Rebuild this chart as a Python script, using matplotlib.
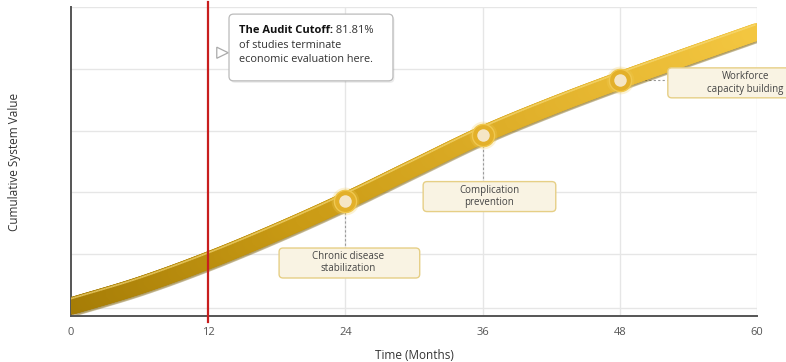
import numpy as np
import matplotlib
matplotlib.use("Agg")
import matplotlib.pyplot as plt
from matplotlib.collections import LineCollection
from matplotlib.colors import LinearSegmentedColormap
from matplotlib.patches import FancyBboxPatch, Polygon
import matplotlib.transforms as mtransforms

plt.rcParams['font.family'] = ['Open Sans', 'DejaVu Sans']

# ---- data ----
months = [0, 6, 12, 18, 24, 30, 36, 42, 48, 54, 60]
value = [3.2, 9.9, 18.0, 27.2, 37.2, 48.0, 58.7, 67.9, 76.3, 84.2, 92.0]
milestone_x = [24, 36, 48]
milestone_y = [37.2, 58.7, 76.3]
milestone_labels = ["Chronic disease\nstabilization", "Complication\nprevention",
                    "Workforce\ncapacity building"]
xticks = [0, 12, 24, 36, 48, 60]
cutoff_month = 12
cutoff_pct = "81.81%"

# ---- smooth rendering of curve (Catmull-Rom) ----
def catmull(xs, ys, n=40):
    P = np.column_stack([xs, ys]).astype(float)
    P = np.vstack([2 * P[0] - P[1], P, 2 * P[-1] - P[-2]])
    out = []
    for i in range(1, len(P) - 2):
        p0, p1, p2, p3 = P[i - 1], P[i], P[i + 1], P[i + 2]
        t = np.linspace(0, 1, n, endpoint=False)[:, None]
        pts = 0.5 * ((2 * p1) + (-p0 + p2) * t + (2 * p0 - 5 * p1 + 4 * p2 - p3) * t ** 2
                     + (-p0 + 3 * p1 - 3 * p2 + p3) * t ** 3)
        out.append(pts)
    out.append(P[-2][None, :])
    return np.vstack(out)

fig = plt.figure(figsize=(7.86, 3.62), dpi=100)
ax = fig.add_axes([71 / 786, 1 - 316 / 362, (757 - 71) / 786, (316 - 7) / 362])
ax.set_xlim(0, 60)
ax.set_ylim(0, 100)

# grid
for gy in [2.6, 20, 40, 60, 80, 100]:
    ax.axhline(gy, color='#e6e6e6', lw=1.0, zorder=0)
for gx in [24, 36, 48, 60]:
    ax.axvline(gx, color='#e6e6e6', lw=1.0, zorder=0)

for s in ['top', 'right']:
    ax.spines[s].set_visible(False)
for s in ['left', 'bottom']:
    ax.spines[s].set_color('#555555')
    ax.spines[s].set_linewidth(1.4)
ax.set_yticks([])
ax.set_xticks(xticks)
ax.set_xticklabels([str(v) for v in xticks], color='#555555', fontsize=8)
ax.tick_params(axis='x', length=0, pad=8)
ax.set_xlabel("Time (Months)", fontsize=8.5, color='#333333', labelpad=8)
ax.set_ylabel("Cumulative System Value", fontsize=8.5, color='#333333', labelpad=36)

# curve
pts = catmull(months, value)
segs = np.stack([pts[:-1], pts[1:]], axis=1)
cmap = LinearSegmentedColormap.from_list('gold', ['#a57c06', '#c99a14', '#e0b02a', '#f3c640'])
cvals = np.linspace(0, 1, len(segs))

shadow_tr = mtransforms.offset_copy(ax.transData, fig=fig, x=0.5, y=-2.0, units='dots')
lc_sh = LineCollection(segs, colors='#7a5c00', alpha=0.12, linewidths=13,
                       capstyle='round', transform=shadow_tr, zorder=2)
ax.add_collection(lc_sh)
lc = LineCollection(segs, cmap=cmap, linewidths=12.5, capstyle='round', zorder=3)
lc.set_array(cvals)
ax.add_collection(lc)
hl_tr = mtransforms.offset_copy(ax.transData, fig=fig, x=-1.5, y=7.0, units='dots')
lc_hl = LineCollection(segs, colors='#f8dc7a', alpha=0.7, linewidths=1.2,
                       transform=hl_tr, zorder=3.5)
ax.add_collection(lc_hl)

# cutoff line
ax.plot([cutoff_month, cutoff_month], [-2, 101.5], color='#c81e1e', lw=1.6,
        zorder=6, clip_on=False)

# connectors and label boxes (box coords in data units)
boxes = [(18.2, 12.3, 12.3, 9.7), (30.8, 33.8, 11.6, 9.7), (52.2, 70.6, 14.5, 9.7)]
text_pos = [(24.2, 17.2), (36.6, 38.8), (59.0, 75.4)]
ax.plot([24, 24], [37.2 - 3.5, 22.0], color='#999999', lw=0.8, ls=(0, (2, 2)), zorder=1)
ax.plot([36, 36], [58.7 - 3.5, 43.5], color='#999999', lw=0.8, ls=(0, (2, 2)), zorder=1)
ax.plot([48 + 1.0, 52.2], [76.3, 76.3], color='#999999', lw=0.8, ls=(0, (2, 2)), zorder=1)
for (bx, by, bw, bh), (tx, ty), lab in zip(boxes, text_pos, milestone_labels):
    p = FancyBboxPatch((bx, by), bw, bh, boxstyle='round,pad=0,rounding_size=0.35',
                       mutation_aspect=3.5, fc='#f9f3e3', ec='#e6cf86', lw=1.0,
                       zorder=7, clip_on=False)
    ax.add_patch(p)
    ax.text(tx, ty, lab, ha='center', va='center', fontsize=7, color='#444444',
            linespacing=1.15, zorder=8, clip_on=False)

# markers
ax.plot(milestone_x, milestone_y, 'o', ms=20, color='#f3cc55', alpha=0.25, zorder=4, mec='none')
ax.plot(milestone_x, milestone_y, 'o', ms=16, mfc='#e3b02a', mec='#f0c850', mew=1.0, zorder=5)
ax.plot(milestone_x, milestone_y, 'o', ms=9, mfc='#f5e6c6', mec='none', zorder=6)

# tooltip
sh_tr = mtransforms.offset_copy(ax.transData, fig=fig, x=1.5, y=-2, units='dots')
tt_sh = FancyBboxPatch((13.82, 76.1), 14.34, 21.6, boxstyle='round,pad=0,rounding_size=0.4',
                       mutation_aspect=3.5, fc='#000000', alpha=0.08, ec='none',
                       transform=sh_tr, zorder=8, clip_on=False)
ax.add_patch(tt_sh)
tt = FancyBboxPatch((13.82, 76.1), 14.34, 21.6, boxstyle='round,pad=0,rounding_size=0.4',
                    mutation_aspect=3.5, fc='white', ec='#bbbbbb', lw=0.9, zorder=9, clip_on=False)
ax.add_patch(tt)
tri = Polygon([[12.75, 87.0], [13.75, 85.2], [12.75, 83.4]], closed=True, fc='white',
              ec='#aaaaaa', lw=0.9, zorder=10, clip_on=False)
ax.add_patch(tri)
t1 = ax.text(14.7, 92.4, "The Audit Cutoff:", fontsize=8, fontweight='bold',
             color='#111111', ha='left', va='center', zorder=11)
ax.annotate(" " + cutoff_pct, xy=(1, 0.5), xycoords=t1, ha='left', va='center',
            fontsize=8, color='#333333', zorder=11)
ax.text(14.7, 87.6, "of studies terminate", fontsize=7.8, color='#333333',
        ha='left', va='center', zorder=11)
ax.text(14.7, 83.0, "economic evaluation here.", fontsize=7.8, color='#333333',
        ha='left', va='center', zorder=11)

fig.savefig("out.png", dpi=100, facecolor='white')
